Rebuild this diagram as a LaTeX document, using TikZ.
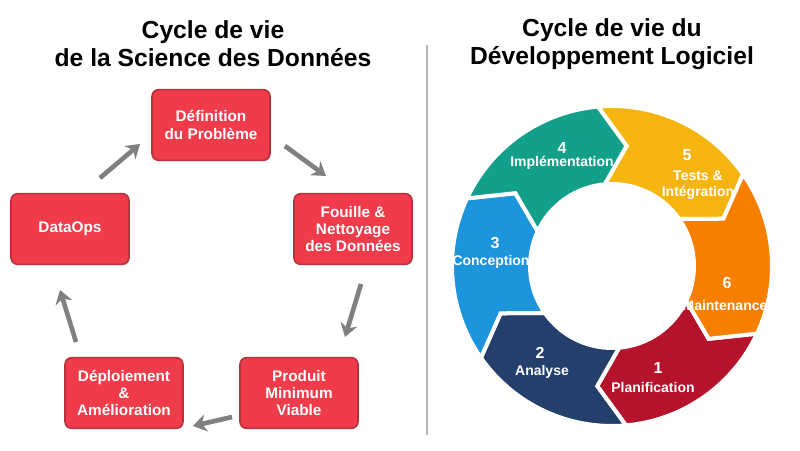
\documentclass[tikz,border=0pt]{standalone}
\usepackage{fontspec}
\setmainfont{Liberation Sans}
\usetikzlibrary{arrows.meta}
\definecolor{boxred}{HTML}{EF3B4A}
\definecolor{boxedge}{HTML}{B8323C}
\definecolor{arrgray}{HTML}{808080}
\definecolor{cA}{HTML}{B5132B}
\definecolor{cB}{HTML}{243F6B}
\definecolor{cC}{HTML}{1C95DC}
\definecolor{cD}{HTML}{12A08A}
\definecolor{cE}{HTML}{F6B40E}
\definecolor{cF}{HTML}{F77F00}
\tikzset{
  stepbox/.style={draw=boxedge,line width=1.2pt,fill=boxred,rounded corners=5pt,minimum width=88.5pt,minimum height=53pt,text=white,font=\bfseries\fontsize{11.5}{13}\selectfont,align=center,inner sep=1pt},
  flow/.style={draw=arrgray,line width=3.5pt,-{Stealth[length=10pt,width=13pt]}},
  title/.style={font=\bfseries\fontsize{18.5}{21}\selectfont,align=center},
  ring/.style={text=white,font=\bfseries\fontsize{10.5}{12}\selectfont,align=center,inner sep=0pt},
  ringnum/.style={text=white,font=\bfseries\fontsize{12}{14}\selectfont,inner sep=0pt}
}
\begin{document}
\begin{tikzpicture}[x=0.75pt,y=-0.75pt]
\useasboundingbox (0,0) rectangle (800,450);
\fill[white] (0,0) rectangle (800,450);
\node[title] (t1) at (213,44) {Cycle de vie\\de la Science des Données};
\node[title] (t2) at (612,44) {Cycle de vie du\\Développement Logiciel};
\coordinate (dv1) at (427,45); \coordinate (dv2) at (427,435);
\draw[gray!60,line width=1.2pt] (dv1) -- (dv2);
\node[stepbox] (def) at (211,125) {Définition\\du Problème};
\node[stepbox] (fou) at (353,229) {Fouille \&\\Nettoyage\\des Données};
\node[stepbox] (pro) at (299,393) {Produit\\Minimum\\Viable};
\node[stepbox] (dep) at (124,393) {Déploiement\\\&\\Amélioration};
\node[stepbox] (dat) at (70,229) {DataOps};
\coordinate (a1s) at (285,146); \coordinate (a1e) at (326,176);
\coordinate (a2s) at (361,284); \coordinate (a2e) at (345,337);
\coordinate (a3s) at (232,417); \coordinate (a3e) at (193,426);
\coordinate (a4s) at (76,342); \coordinate (a4e) at (60,290);
\coordinate (a5s) at (100,178); \coordinate (a5e) at (140,144);
\draw[flow] (a1s) -- (a1e);
\draw[flow] (a2s) -- (a2e);
\draw[flow] (a3s) -- (a3e);
\draw[flow] (a4s) -- (a4e);
\draw[flow] (a5s) -- (a5e);
\begin{scope}[shift={(612,266)},yscale=-1]
\foreach \a/\c in {275/cA,215/cB,155/cC,95/cD,35/cE,-25/cF}{
  \pgfmathsetmacro{\b}{\a+60}
  \pgfmathsetmacro{\ta}{\a-12}
  \pgfmathsetmacro{\tb}{\b-12}
  \filldraw[fill=\c,draw=white,line width=3pt,line join=miter] (\b:160) arc[start angle=\b,end angle=\a,radius=160] -- (\ta:121) -- (\a:82) arc[start angle=\a,end angle=\b,radius=82] -- (\tb:121) -- cycle;
}
\end{scope}
\node[ringnum] (n4) at (562,148) {4}; \node[ring] (l4) at (562,163) {Implémentation};
\node[ringnum] (n5) at (687,155) {5}; \node[ring] (l5) at (698,185) {Tests \&\\Intégration};
\node[ringnum] (n3) at (495,243) {3}; \node[ring] (l3) at (491,262) {Conception};
\node[ringnum] (n6) at (727,283) {6}; \node[ring] (l6) at (725,305) {Maintenance};
\node[ringnum] (n2) at (540,353) {2}; \node[ring] (l2) at (542,372) {Analyse};
\node[ringnum] (n1) at (658,368) {1}; \node[ring] (l1) at (653,387) {Planification};
\end{tikzpicture}
\end{document}
